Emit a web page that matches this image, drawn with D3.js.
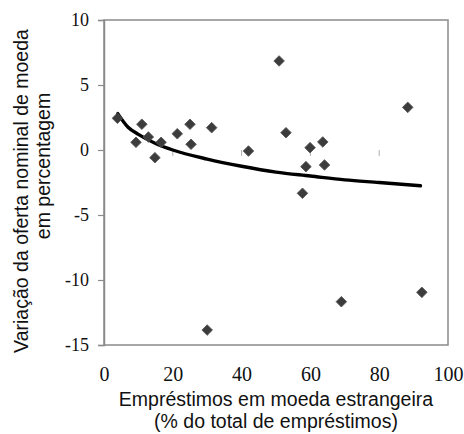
<!DOCTYPE html>
<html>
<head>
<meta charset="utf-8">
<script src="https://cdn.jsdelivr.net/npm/d3@7/dist/d3.min.js"></script>
<style>
  html, body { margin: 0; padding: 0; background: #fff; }
  svg { display: block; }
</style>
</head>
<body>
<svg id="chart" width="464" height="434"></svg>
<script>
// Foreign-currency loans (% of total loans) vs. nominal money supply change (%)
const loanShare = [3.9, 11.0, 25.0, 31.3, 21.3, 12.9, 9.3, 16.6, 25.3, 14.8,
                   50.9, 52.9, 42.0, 63.6, 59.9, 58.7, 64.1, 57.7, 88.3, 30.0, 69.0, 92.4];
const moneyChange = [2.44, 1.98, 1.98, 1.72, 1.25, 1.0, 0.59, 0.59, 0.44, -0.59,
                     6.85, 1.33, -0.08, 0.62, 0.18, -1.28, -1.15, -3.33, 3.28, -13.85, -11.67, -10.95];

// Logarithmic trend line, sampled along the x range
const trendX = [4, 7, 10, 15, 20, 30, 40, 50, 60, 70, 80, 92];
const trendY = [2.8, 1.75, 1.2, 0.5, 0.0, -0.7, -1.25, -1.7, -2.0, -2.3, -2.5, -2.75];

const xTicks = [0, 20, 40, 60, 80, 100];
const yTicks = [10, 5, 0, -5, -10, -15];

const svg = d3.select("#chart");
const plotLeft = 104, plotRight = 448, plotTop = 20, plotBottom = 345;

const x = d3.scaleLinear().domain([0, 100]).range([plotLeft, plotRight]);
const y = d3.scaleLinear().domain([-15, 10]).range([plotBottom, plotTop]);

const axisGrey = "#8a8a8a";
const serif = "'Liberation Serif', 'Times New Roman', serif";
const sans = "'Liberation Sans', Arial, sans-serif";

// Plot frame
svg.append("rect")
  .attr("x", plotLeft).attr("y", plotTop)
  .attr("width", plotRight - plotLeft).attr("height", plotBottom - plotTop)
  .attr("fill", "none").attr("stroke", axisGrey).attr("stroke-width", 1.5);

// Y axis (ticks outward, serif labels with plain hyphen minus)
const yAxis = svg.append("g")
  .attr("transform", `translate(${plotLeft},0)`)
  .call(d3.axisLeft(y).tickValues(yTicks).tickSize(6).tickPadding(9).tickFormat(d => String(d)));
yAxis.select(".domain").attr("stroke", axisGrey).attr("stroke-width", 1.5);
yAxis.selectAll(".tick line").attr("stroke", axisGrey).attr("stroke-width", 1.2);
yAxis.selectAll(".tick text")
  .attr("fill", "#111")
  .style("font-family", serif)
  .style("font-size", "18px");

// X axis labels (no outer ticks)
const xAxis = svg.append("g")
  .attr("transform", `translate(0,${plotBottom})`)
  .call(d3.axisBottom(x).tickValues(xTicks).tickSize(0).tickPadding(22).tickFormat(d => String(d)));
xAxis.select(".domain").remove();
xAxis.selectAll(".tick text")
  .attr("fill", "#111")
  .style("font-family", serif)
  .style("font-size", "20px");

// Faint minor ticks along the zero line
svg.append("g").selectAll("line")
  .data(xTicks.slice(1, -1))
  .join("line")
  .attr("x1", d => x(d)).attr("x2", d => x(d))
  .attr("y1", y(0)).attr("y2", y(0) + 6)
  .attr("stroke", "#b0b0b0").attr("stroke-width", 1);

// Trend curve
const trend = trendX.map((v, i) => [v, trendY[i]]);
svg.append("path")
  .datum(trend)
  .attr("fill", "none")
  .attr("stroke", "#000")
  .attr("stroke-width", 3.4)
  .attr("stroke-linecap", "round")
  .attr("d", d3.line().x(d => x(d[0])).y(d => y(d[1])).curve(d3.curveMonotoneX));

// Diamond markers
const diamond = d3.symbol().type(d3.symbolSquare).size(56);
svg.append("g").selectAll("path")
  .data(loanShare.map((v, i) => [v, moneyChange[i]]))
  .join("path")
  .attr("d", diamond)
  .attr("transform", d => `translate(${x(d[0])},${y(d[1])}) rotate(45)`)
  .attr("fill", "#3c3c3c")
  .attr("stroke", "#555")
  .attr("stroke-width", 0.8);

// Axis titles
const xTitle = svg.append("text")
  .attr("text-anchor", "middle")
  .style("font-family", sans).style("font-size", "19.5px").attr("fill", "#111");
xTitle.append("tspan").attr("x", (plotLeft + plotRight) / 2).attr("y", 406).text("Empréstimos em moeda estrangeira");
xTitle.append("tspan").attr("x", (plotLeft + plotRight) / 2).attr("y", 428).text("(% do total de empréstimos)");

svg.append("text")
  .attr("transform", "translate(28,191) rotate(-90)")
  .attr("text-anchor", "middle")
  .style("font-family", sans).style("font-size", "19.5px").attr("fill", "#111")
  .text("Variação da oferta nominal de moeda");
svg.append("text")
  .attr("transform", "translate(50,166) rotate(-90)")
  .attr("text-anchor", "middle")
  .style("font-family", sans).style("font-size", "19.5px").attr("fill", "#111")
  .text("em percentagem");
</script>
</body>
</html>
